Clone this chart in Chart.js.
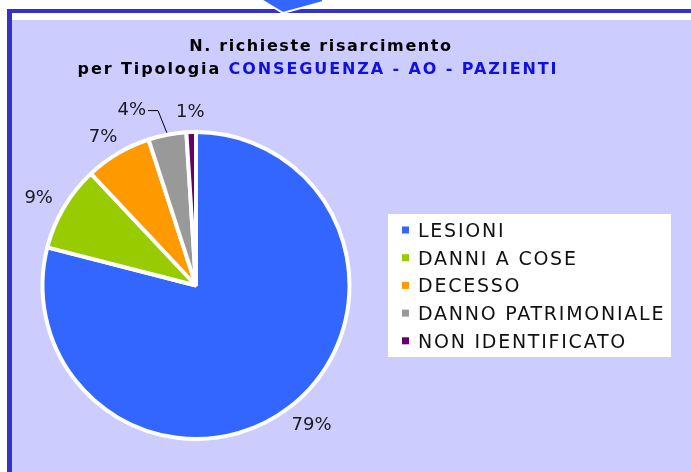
<!DOCTYPE html>
<html>
<head>
<meta charset="utf-8">
<script src="https://cdn.jsdelivr.net/npm/chart.js@4/dist/chart.umd.min.js"></script>
<style>
  html, body { margin:0; padding:0; background:#ffffff; width:691px; height:472px; overflow:hidden; }
  #frame { position:absolute; left:7px; top:9px; width:720px; height:500px; border-top:4px solid #3333CC; border-left:5px solid #3333CC; background:#ffffff; }
  #plot { position:absolute; left:12px; top:20px; width:690px; height:460px; background:#CCCCFF; }
  #arrow { position:absolute; left:0; top:0; }
  #c { position:absolute; left:0; top:0; }
</style>
</head>
<body>
<div id="frame"></div>
<div id="plot"></div>
<svg id="arrow" width="691" height="30"><polygon points="258,-2 323,-2 323,2 283,13" fill="#3366FF" stroke="#ffffff" stroke-width="2" stroke-linejoin="miter"/></svg>
<canvas id="c" width="691" height="472"></canvas>
<script>
// ---- data ----
const categories = ["LESIONI", "DANNI A COSE", "DECESSO", "DANNO PATRIMONIALE", "NON IDENTIFICATO"];
const values = [79, 9, 7, 4, 1];
const percentLabels = ["79%", "9%", "7%", "4%", "1%"];
const sliceColors = ["#3366FF", "#99CC00", "#FF9900", "#999999", "#660066"];
const titleLine1 = "N. richieste risarcimento";
const titleLine2a = "per Tipologia ";
const titleLine2b = "CONSEGUENZA - AO - PAZIENTI";

function spacedText(ctx, text, x, y, spacing) {
  ctx.letterSpacing = spacing + "px";
  ctx.fillText(text, x, y);
  ctx.letterSpacing = "0px";
}
function spacedWidth(ctx, text, spacing) {
  ctx.letterSpacing = spacing + "px";
  const w = ctx.measureText(text).width;
  ctx.letterSpacing = "0px";
  return w;
}

const titlePlugin = {
  id: "titlePlugin",
  afterDraw(chart) {
    const ctx = chart.ctx;
    ctx.save();
    ctx.font = "bold 16px 'DejaVu Sans'";
    ctx.textBaseline = "alphabetic";
    ctx.textAlign = "left";
    ctx.fillStyle = "#000000";
    const w1 = spacedWidth(ctx, titleLine1, 1.6);
    spacedText(ctx, titleLine1, 321 - w1 / 2, 51, 1.6);
    const sp = 1.9;
    const wa = spacedWidth(ctx, titleLine2a, sp);
    const wb = spacedWidth(ctx, titleLine2b, sp);
    const x0 = 318 - (wa + wb) / 2;
    spacedText(ctx, titleLine2a, x0, 74, sp);
    ctx.fillStyle = "#1111DD";
    spacedText(ctx, titleLine2b, x0 + wa, 74, sp);
    ctx.restore();
  }
};

const legendPlugin = {
  id: "boxLegend",
  afterDraw(chart) {
    const ctx = chart.ctx;
    const ds = chart.data.datasets[0];
    ctx.save();
    ctx.fillStyle = "#ffffff";
    ctx.fillRect(388, 214, 283, 143);
    ctx.font = "19px 'DejaVu Sans'";
    ctx.textBaseline = "alphabetic";
    ctx.textAlign = "left";
    chart.data.labels.forEach((lab, i) => {
      const cy = 230 + i * 27.7;
      ctx.fillStyle = ds.backgroundColor[i];
      ctx.fillRect(402, cy - 3.5, 7, 7);
      ctx.fillStyle = "#111111";
      spacedText(ctx, lab, 418, cy + 7, 1.75);
    });
    ctx.restore();
  }
};

const pctPlugin = {
  id: "pctLabels",
  afterDatasetsDraw(chart) {
    const ctx = chart.ctx;
    const meta = chart.getDatasetMeta(0);
    ctx.save();
    ctx.font = "18px 'DejaVu Sans'";
    ctx.textAlign = "center";
    ctx.textBaseline = "middle";
    ctx.fillStyle = "#1a1a1a";
    const h = 13;
    const items = meta.data.map((arc, i) => {
      const p = arc.getProps(["x", "y", "startAngle", "endAngle", "outerRadius"], true);
      const mid = (p.startAngle + p.endAngle) / 2;
      const r = p.outerRadius + 15;
      const text = percentLabels[i];
      const w = ctx.measureText(text).width;
      const c = Math.cos(mid), s = Math.sin(mid);
      return { text, w, mid, p, cx: p.x + c * r + c * w / 2, cy: p.y + s * r + s * h / 2 + 2, leader: false };
    });
    // resolve overlaps of small neighbouring slices: push earlier one to the left
    for (let i = items.length - 2; i >= 0; i--) {
      const a = items[i], b = items[i + 1];
      const aRight = a.cx + a.w / 2, bLeft = b.cx - b.w / 2;
      if (Math.abs(a.cy - b.cy) < 16 && aRight > bLeft - 2) {
        a.cx = bLeft - 30 - a.w / 2;
        a.cy = b.cy - 2;
        a.leader = true;
      }
    }
    items.forEach(it => {
      ctx.fillText(it.text, it.cx, it.cy);
      if (it.leader) {
        const ex = it.p.x + Math.cos(it.mid) * (it.p.outerRadius + 2);
        const ey = it.p.y + Math.sin(it.mid) * (it.p.outerRadius + 2);
        ctx.beginPath();
        ctx.strokeStyle = "#000000";
        ctx.lineWidth = 1;
        ctx.moveTo(it.cx + it.w / 2 + 2, it.cy);
        ctx.lineTo(it.cx + it.w / 2 + 12, it.cy);
        ctx.lineTo(ex, ey);
        ctx.stroke();
      }
    });
    ctx.restore();
  }
};

new Chart(document.getElementById("c"), {
  type: "pie",
  data: {
    labels: categories,
    datasets: [{
      data: values,
      backgroundColor: sliceColors,
      borderColor: "#ffffff",
      borderWidth: 4
    }]
  },
  options: {
    responsive: false,
    animation: false,
    events: [],
    layout: { padding: { left: 40, top: 130, right: 339, bottom: 31 } },
    plugins: {
      legend: { display: false },
      tooltip: { enabled: false },
      title: { display: false }
    }
  },
  plugins: [pctPlugin, legendPlugin, titlePlugin]
});
</script>
</body>
</html>
